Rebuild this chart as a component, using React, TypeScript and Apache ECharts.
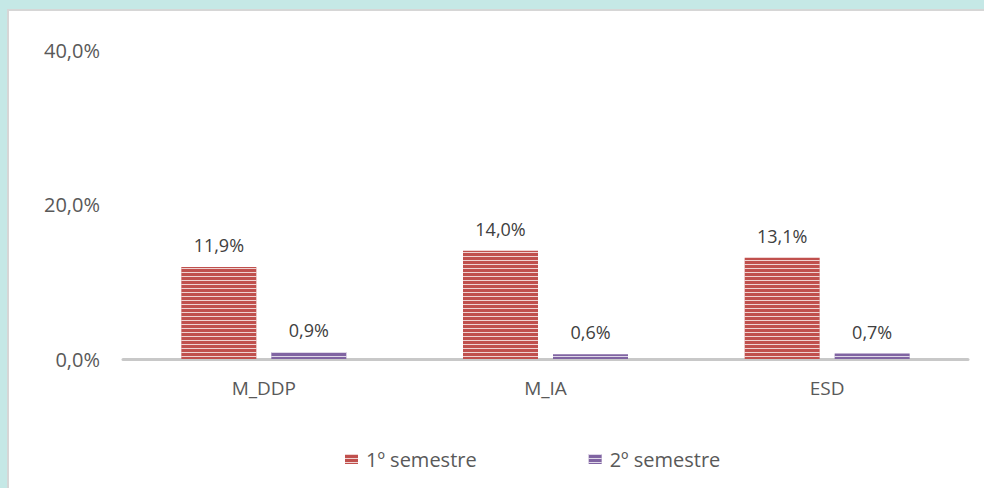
import React, { useEffect, useRef } from "react";
import * as echarts from "echarts";

const categories = ["M_DDP", "M_IA", "ESD"];
const sem1 = [11.9, 14.0, 13.1];
const sem2 = [0.9, 0.6, 0.7];
const seriesNames = ["1º semestre", "2º semestre"];
const yTicks = { min: 0, max: 40, interval: 20 };

const fmt = (v: number) => v.toFixed(1).replace(".", ",") + "%";
const FONT = "Open Sans";

const stripe = {
  symbol: "rect",
  symbolSize: 1,
  color: "rgba(255,255,255,0.75)",
  dashArrayX: [1, 0],
  dashArrayY: [1, 3],
  rotation: 0,
};

export default function App() {
  const ref = useRef<HTMLDivElement>(null);
  useEffect(() => {
    const chart = echarts.init(ref.current!, null, { renderer: "svg" });
    const label = {
      show: true,
      position: "top",
      distance: 13,
      fontFamily: FONT,
      fontSize: 18,
      color: "#404040",
      formatter: (p: any) => fmt(p.value),
    };
    chart.setOption({
      animation: false,
      backgroundColor: "#c5e8e6",
      graphic: [
        {
          type: "rect",
          z: -10,
          shape: { x: 8, y: 10, width: 990, height: 490 },
          style: { fill: "#ffffff", stroke: "#d6d6d6", lineWidth: 2 },
        },
      ],
      grid: { left: 123, right: 16, top: 50, bottom: 129 },
      legend: {
        bottom: 14,
        left: 340,
        itemWidth: 13,
        itemHeight: 10,
        itemGap: 112,
        icon: "rect",
        textStyle: { fontFamily: FONT, fontSize: 20, color: "#595959", padding: [0, 0, 0, 3] },
        data: seriesNames,
      },
      xAxis: {
        type: "category",
        data: categories,
        axisLine: { lineStyle: { color: "#c8c8c8", width: 3 } },
        axisTick: { show: false },
        axisLabel: { fontFamily: FONT, fontSize: 19, color: "#595959", margin: 19 },
      },
      yAxis: {
        type: "value",
        min: yTicks.min,
        max: yTicks.max,
        interval: yTicks.interval,
        splitLine: { show: false },
        axisLine: { show: false },
        axisTick: { show: false },
        axisLabel: {
          fontFamily: FONT,
          fontSize: 20,
          color: "#595959",
          margin: 23,
          formatter: (v: number) => fmt(v),
        },
      },
      series: [
        {
          name: seriesNames[0],
          type: "bar",
          data: sem1,
          barWidth: 75,
          barGap: "20%",
          itemStyle: { color: "#c0504d", decal: stripe },
          label,
        },
        {
          name: seriesNames[1],
          type: "bar",
          data: sem2,
          barWidth: 75,
          barGap: "20%",
          itemStyle: { color: "#8064a2", decal: stripe },
          label,
        },
      ],
    });
    return () => chart.dispose();
  }, []);
  return (
    <div
      ref={ref}
      style={{ position: "fixed", left: 0, top: 0, width: 984, height: 488 }}
    />
  );
}
